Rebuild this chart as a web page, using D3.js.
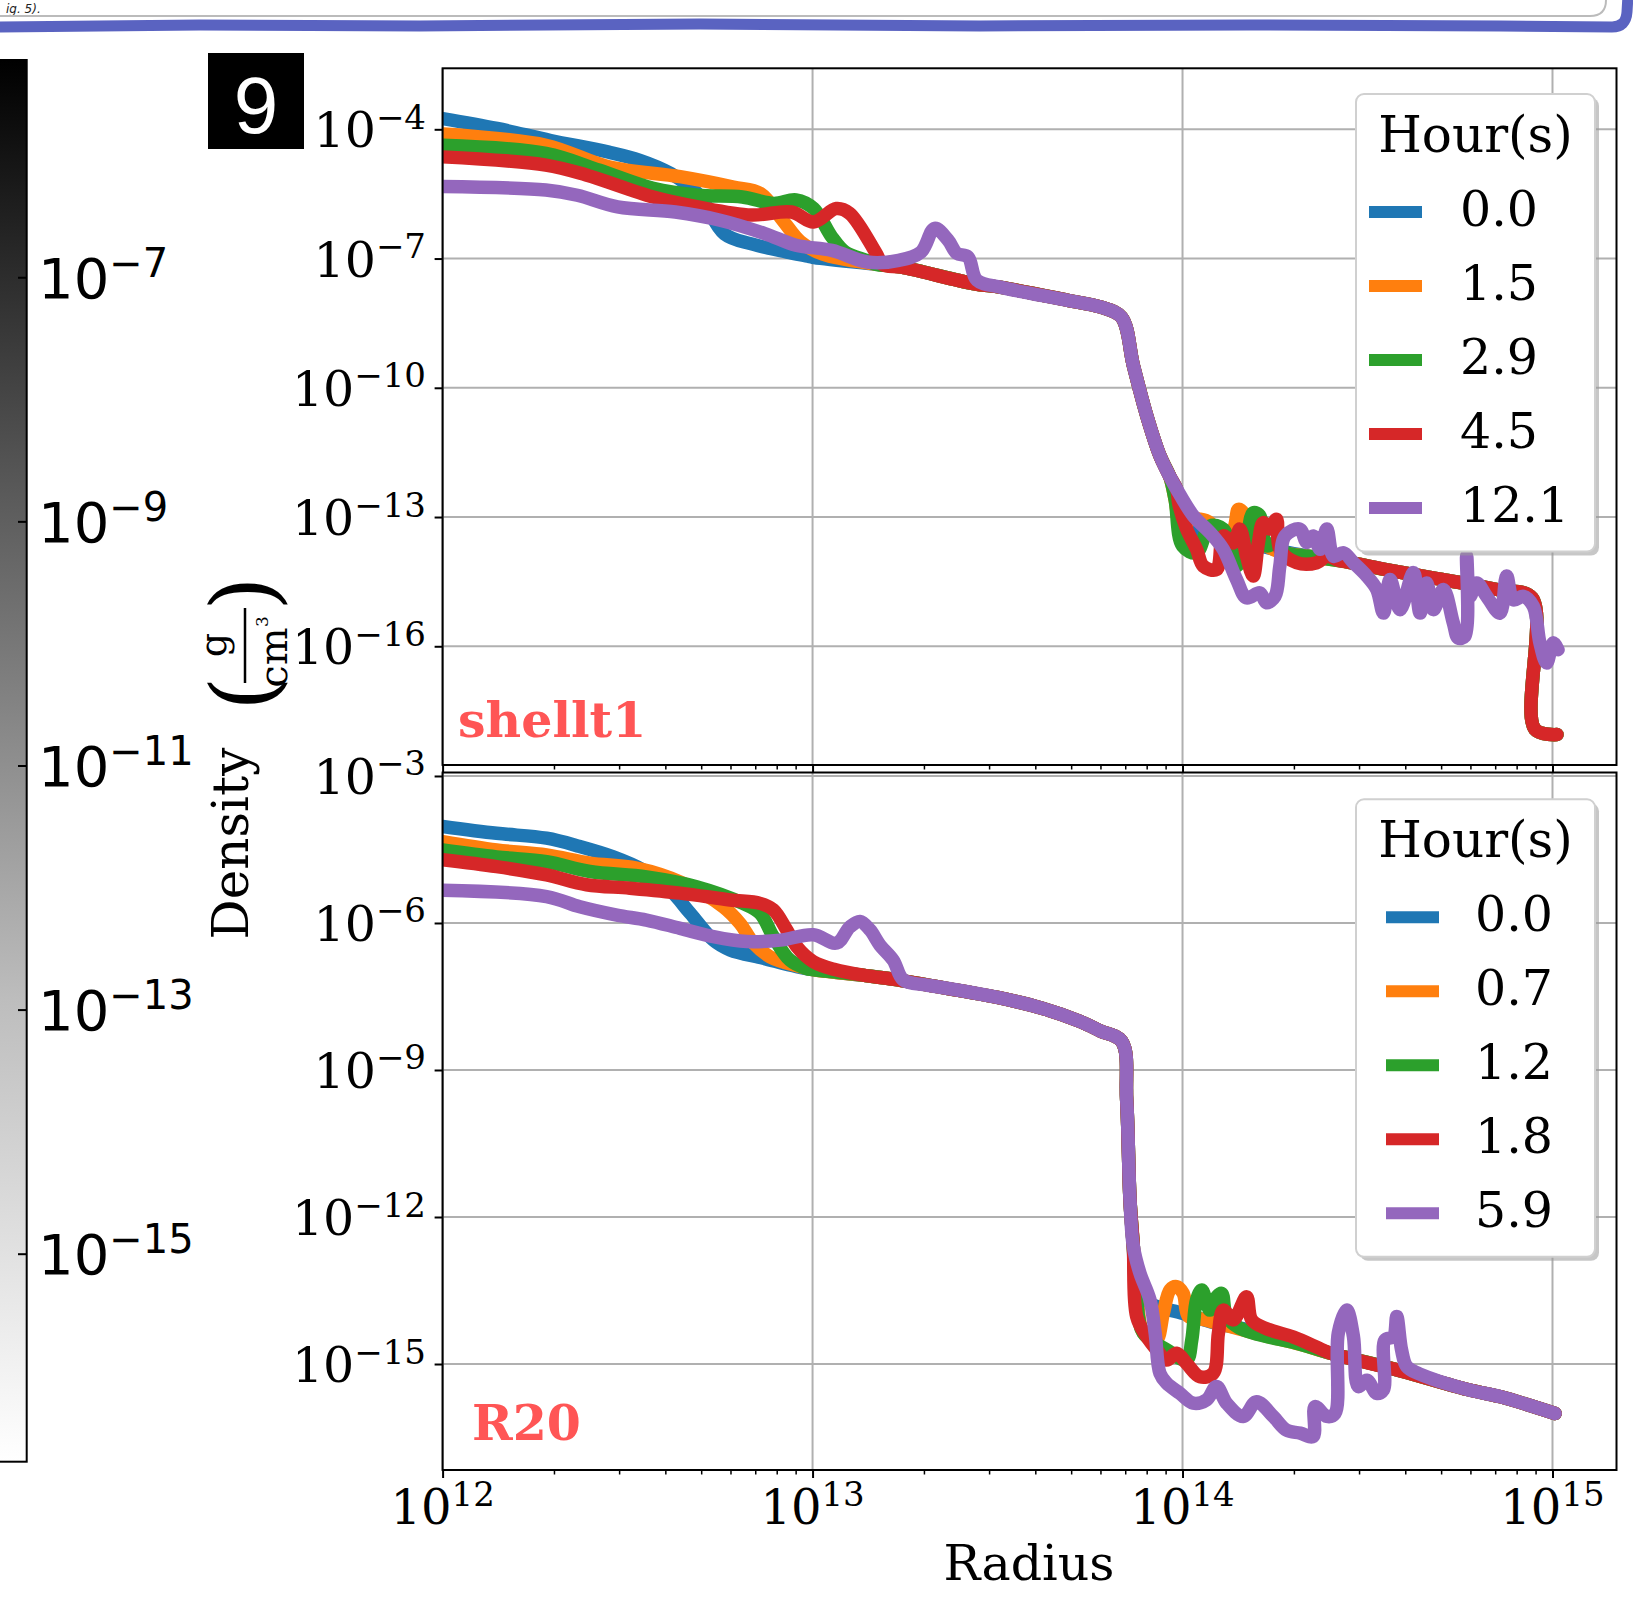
<!DOCTYPE html>
<html>
<head>
<meta charset="utf-8">
<script src="https://cdn.jsdelivr.net/npm/d3@7"></script>
<style>
  html, body { margin: 0; padding: 0; background: #fff; }
  svg { display: block; }
</style>
</head>
<body>
<div id="chart"></div>
<script>
// ---- Data (log10 radius, log10 density) ----
const colors = ['#1f77b4', '#ff7f0e', '#2ca02c', '#d62728', '#9467bd'];

// top panel: shellt1
const topHours = ['0.0', '1.5', '2.9', '4.5', '12.1'];
const topInner = [
  [[12.0,-3.75],[12.147,-3.98],[12.292,-4.26],[12.449,-4.53],[12.533,-4.72],[12.617,-5.03],[12.69,-5.5],[12.762,-6.43],[12.835,-6.66],[12.931,-6.85],[12.99,-6.95]],
  [[12.0,-4.11],[12.279,-4.37],[12.449,-4.87],[12.642,-5.1],[12.786,-5.34],[12.859,-5.49],[12.919,-6.11],[12.967,-6.61],[13.028,-6.9]],
  [[12.0,-4.37],[12.279,-4.56],[12.424,-4.95],[12.569,-5.37],[12.69,-5.53],[12.81,-5.57],[12.895,-5.72],[12.955,-5.64],[13.003,-5.84],[13.052,-6.5],[13.088,-6.85],[13.148,-7.05]],
  [[12.0,-4.64],[12.279,-4.83],[12.388,-5.06],[12.569,-5.57],[12.69,-5.8],[12.835,-5.99],[12.943,-5.92],[13.003,-6.15],[13.064,-5.84],[13.1,-5.95],[13.172,-6.88],[13.19,-7.14]],
  [[12.0,-5.33],[12.279,-5.41],[12.364,-5.53],[12.473,-5.8],[12.629,-5.92],[12.75,-6.11],[12.871,-6.42],[12.955,-6.69],[13.052,-6.81],[13.148,-7.08],[13.233,-7.04],[13.293,-6.85],[13.33,-6.3],[13.366,-6.57],[13.39,-6.88],[13.42,-6.96],[13.444,-7.5]]
];
const topShelf = [[13.0,-6.97],[13.17,-7.13],[13.24,-7.2],[13.434,-7.58],[13.51,-7.67],[13.69,-7.97],[13.78,-8.13],[13.835,-8.36],[13.867,-9.48],[13.903,-10.64],[13.939,-11.58],[13.965,-12.05],[13.984,-12.35],[14.029,-12.97]];
const topNoise = [
  [[13.99,-12.6],[14.0,-13.15],[14.1,-13.45],[14.2,-13.65],[14.3,-13.85],[14.42,-14.0]],
  [[13.98,-12.6],[13.998,-13.44],[14.02,-13.05],[14.047,-13.05],[14.074,-13.13],[14.101,-13.44],[14.137,-13.28],[14.151,-12.82],[14.164,-12.9],[14.178,-13.6],[14.2,-13.44],[14.227,-13.67],[14.272,-13.83],[14.35,-13.92]],
  [[13.98,-12.6],[14.0,-13.67],[14.038,-13.83],[14.074,-13.21],[14.11,-13.28],[14.146,-14.14],[14.173,-13.52],[14.191,-12.9],[14.209,-12.97],[14.227,-13.67],[14.254,-13.6],[14.281,-13.83],[14.35,-13.92]],
  [[13.99,-12.7],[14.011,-13.28],[14.038,-13.75],[14.056,-14.14],[14.092,-14.22],[14.11,-13.44],[14.137,-13.6],[14.155,-13.28],[14.173,-13.91],[14.191,-14.37],[14.205,-13.6],[14.218,-13.13],[14.236,-13.28],[14.254,-13.05],[14.263,-13.75],[14.308,-14.06],[14.363,-14.06],[14.39,-13.91],[14.42,-14.0]],
  [[14.074,-13.36],[14.11,-13.75],[14.146,-14.45],[14.173,-14.88],[14.209,-14.76],[14.227,-14.99],[14.25,-14.84],[14.263,-14.14],[14.277,-13.44],[14.317,-13.28],[14.336,-13.59],[14.353,-13.44],[14.372,-13.75],[14.39,-13.28],[14.408,-13.91],[14.435,-13.83],[14.462,-14.06],[14.498,-14.37],[14.525,-14.68],[14.543,-15.23],[14.561,-14.45],[14.588,-15.15],[14.624,-14.29],[14.642,-15.23],[14.66,-14.53],[14.678,-15.15],[14.705,-14.68],[14.732,-15.46],[14.745,-15.81],[14.763,-15.77],[14.768,-13.91],[14.777,-14.84],[14.795,-14.53],[14.822,-14.84],[14.858,-15.23],[14.876,-14.37],[14.894,-14.92],[14.921,-14.84],[14.948,-15.07],[14.966,-15.92],[14.984,-16.39],[15.002,-15.92],[15.015,-16.08]]
];
const topTail = [[14.45,-14.05],[14.55,-14.22],[14.68,-14.42],[14.77,-14.55],[14.86,-14.7],[14.945,-14.88],[14.952,-17.92],[15.012,-18.05]];

// bottom panel: R20
const botHours = ['0.0', '0.7', '1.2', '1.8', '5.9'];
const botInner = [
  [[12.0,-4.03],[12.146,-4.17],[12.281,-4.27],[12.371,-4.44],[12.461,-4.65],[12.542,-4.92],[12.615,-5.33],[12.669,-5.8],[12.732,-6.35],[12.777,-6.55],[12.867,-6.72],[12.957,-6.89]],
  [[12.0,-4.34],[12.146,-4.51],[12.281,-4.61],[12.398,-4.78],[12.524,-4.88],[12.651,-5.19],[12.759,-5.67],[12.804,-6.01],[12.84,-6.41],[12.885,-6.69],[12.96,-6.88]],
  [[12.0,-4.51],[12.146,-4.65],[12.281,-4.75],[12.398,-4.95],[12.551,-5.06],[12.686,-5.26],[12.812,-5.6],[12.858,-5.8],[12.894,-6.28],[12.939,-6.76],[12.984,-6.93]],
  [[12.0,-4.71],[12.146,-4.85],[12.281,-5.02],[12.389,-5.22],[12.506,-5.29],[12.642,-5.39],[12.777,-5.53],[12.858,-5.6],[12.894,-5.73],[12.93,-6.14],[12.957,-6.48],[13.002,-6.79],[13.06,-6.95]],
  [[12.0,-5.33],[12.281,-5.46],[12.371,-5.67],[12.471,-5.84],[12.551,-5.94],[12.642,-6.11],[12.732,-6.28],[12.822,-6.38],[12.912,-6.35],[13.002,-6.24],[13.065,-6.41],[13.101,-6.08],[13.128,-5.97],[13.155,-6.14],[13.182,-6.45],[13.218,-6.76],[13.245,-7.16],[13.3,-7.26]]
];
const botShelf = [[13.0,-6.95],[13.14,-7.07],[13.23,-7.16],[13.32,-7.28],[13.5,-7.52],[13.62,-7.74],[13.72,-8.0],[13.777,-8.2],[13.836,-8.42],[13.849,-9.61],[13.858,-11.65],[13.867,-12.6],[13.885,-13.15]];
const botNoise = [
  [[13.876,-13.4],[13.912,-13.76],[14.002,-13.97],[14.092,-14.17],[14.182,-14.31],[14.318,-14.58]],
  [[13.876,-13.5],[13.89,-14.3],[13.91,-14.48],[13.93,-14.51],[13.948,-13.97],[13.966,-13.49],[13.984,-13.42],[14.002,-13.56],[14.016,-14.03],[14.05,-14.08],[14.2,-14.38],[14.32,-14.6]],
  [[13.876,-13.69],[13.894,-14.37],[13.957,-14.71],[14.011,-14.92],[14.025,-14.51],[14.038,-13.69],[14.052,-13.49],[14.074,-13.9],[14.092,-13.63],[14.106,-13.56],[14.119,-14.03],[14.155,-14.27],[14.32,-14.6]],
  [[13.876,-14.03],[13.903,-14.44],[13.93,-14.71],[13.957,-14.92],[13.984,-14.78],[14.011,-14.99],[14.047,-15.26],[14.083,-15.19],[14.097,-14.37],[14.11,-13.9],[14.137,-14.1],[14.173,-13.63],[14.187,-14.1],[14.227,-14.28],[14.3,-14.45],[14.37,-14.68]],
  [[13.912,-13.69],[13.926,-14.37],[13.939,-15.19],[13.957,-15.39],[13.993,-15.6],[14.029,-15.8],[14.065,-15.73],[14.092,-15.46],[14.119,-15.8],[14.164,-16.07],[14.2,-15.77],[14.245,-16.07],[14.281,-16.35],[14.318,-16.41],[14.353,-16.48],[14.358,-15.87],[14.39,-16.07],[14.412,-16.01],[14.421,-14.37],[14.444,-13.9],[14.462,-14.44],[14.475,-15.46],[14.498,-15.33],[14.525,-15.6],[14.543,-15.53],[14.547,-14.51],[14.57,-14.44],[14.579,-14.03],[14.592,-14.71],[14.606,-15.05],[14.64,-15.2]]
];
const botTail = [[14.4,-14.78],[14.59,-15.14],[14.77,-15.52],[14.86,-15.67],[15.007,-16.01]];

// ticks
const xTickExp = [12, 13, 14, 15];
const topYTickExp = [-4, -7, -10, -13, -16];
const botYTickExp = [-3, -6, -9, -12, -15];
const cbarTickExp = [-7, -9, -11, -13, -15];

// ---- Layout ----
const width = 1633;
const height = 1618;
const serif = '"DejaVu Serif", "Liberation Serif", serif';
const sans = '"DejaVu Sans", "Liberation Sans", sans-serif';

const svg = d3.select('#chart')
  .append('svg')
    .attr('width', width)
    .attr('height', height)
    .attr('viewBox', `0 0 ${width} ${height}`);

const x = d3.scaleLog()
  .domain([1e12, Math.pow(10, 15.173)])
  .range([442.6, 1616.5]);

const panels = [
  {
    name: 'shellt1', top: 68.3, bottom: 765,
    y: d3.scaleLog().domain([Math.pow(10, -18.756), Math.pow(10, -2.584)]).range([765, 68.3]),
    ticks: topYTickExp, hours: topHours,
    inner: topInner, shelf: topShelf, noise: topNoise, tail: topTail,
    legendTop: 94, handleX: 1369, labelX: 1460, labelY: 737, labelX0: 458
  },
  {
    name: 'R20', top: 772.5, bottom: 1470,
    y: d3.scaleLog().domain([Math.pow(10, -17.163), Math.pow(10, -2.929)]).range([1470, 772.5]),
    ticks: botYTickExp, hours: botHours,
    inner: botInner, shelf: botShelf, noise: botNoise, tail: botTail,
    legendTop: 799.3, handleX: 1386, labelX: 1475, labelY: 1440, labelX0: 472
  }
];

// join the pieces read for one curve
const buildSeries = (inner, shelf, noise, tail) => {
  let pts = inner.slice();
  let last = pts[pts.length - 1][0];
  const noiseStart = noise[0][0];
  shelf.forEach(p => { if (p[0] > last && p[0] < noiseStart) pts.push(p); });
  pts = pts.concat(noise);
  last = pts[pts.length - 1][0];
  tail.forEach(p => { if (p[0] > last) pts.push(p); });
  return pts;
};

// power-of-ten label with superscript
const powLabel = (sel, exp, baseSize, supSize, rise) => {
  sel.append('tspan').text('10').attr('font-size', baseSize);
  sel.append('tspan')
    .attr('font-size', supSize)
    .attr('dy', -rise)
    .text(exp < 0 ? '\u2212' + Math.abs(exp) : String(exp));
};

// ---- Top strip (screenshot frame) ----
svg.append('text')
  .attr('x', 6)
  .attr('y', 13)
  .attr('font-family', sans)
  .attr('font-style', 'italic')
  .attr('font-size', 12)
  .attr('fill', '#222')
  .text('ig. 5).');
svg.append('path')
  .attr('d', 'M0,16 L1590,16 Q1606,16 1606,0')
  .attr('fill', 'none')
  .attr('stroke', '#bbb')
  .attr('stroke-width', 2);
svg.append('path')
  .attr('d', 'M-5,27 L200,25 L420,26 L700,24 L980,26 L1250,25 L1500,26 L1612,27 Q1626,27 1627,12 L1628,-5')
  .attr('fill', 'none')
  .attr('stroke', '#5a63c1')
  .attr('stroke-width', 11)
  .attr('stroke-linecap', 'round');

// ---- Colorbar ----
const defs = svg.append('defs');
const grad = defs.append('linearGradient')
  .attr('id', 'cbar')
  .attr('x1', 0).attr('y1', 0).attr('x2', 0).attr('y2', 1);
[[0, '#000'], [0.31, '#5a5a5a'], [0.67, '#bdbdbd'], [1, '#fff']].forEach(s => {
  grad.append('stop').attr('offset', s[0]).attr('stop-color', s[1]);
});
const cbarY = d3.scaleLog()
  .domain([Math.pow(10, -16.7), Math.pow(10, -5.216)])
  .range([1461.7, 60]);
svg.append('rect')
  .attr('x', -10).attr('y', 60)
  .attr('width', 36.7).attr('height', 1401.7)
  .attr('fill', 'url(#cbar)')
  .attr('stroke', '#000')
  .attr('stroke-width', 2);
const cbarTicks = svg.append('g').attr('class', 'cbar-ticks');
cbarTicks.selectAll('line')
  .data(cbarTickExp)
  .join('line')
    .attr('x1', 18).attr('x2', 26.7)
    .attr('y1', d => cbarY(Math.pow(10, d)))
    .attr('y2', d => cbarY(Math.pow(10, d)))
    .attr('stroke', '#000')
    .attr('stroke-width', 2);
cbarTicks.selectAll('text')
  .data(cbarTickExp)
  .join('text')
    .attr('x', 38)
    .attr('y', d => cbarY(Math.pow(10, d)) + 20)
    .attr('font-family', sans)
    .attr('fill', '#000')
    .each(function (d) { powLabel(d3.select(this), d, 56, 40, 21); });

// ---- Panel number box ----
svg.append('rect')
  .attr('x', 208).attr('y', 53)
  .attr('width', 96).attr('height', 96)
  .attr('fill', '#000');
svg.append('text')
  .attr('x', 256).attr('y', 133)
  .attr('text-anchor', 'middle')
  .attr('font-family', '"Liberation Sans", Arial, sans-serif')
  .attr('font-size', 80)
  .attr('fill', '#fff')
  .text('9');

// ---- Panels ----
const line = yScale => d3.line()
  .x(d => x(Math.pow(10, d[0])))
  .y(d => yScale(Math.pow(10, d[1])))
  .curve(d3.curveCatmullRom.alpha(0.5));

const minorX = [];
xTickExp.forEach(e => {
  for (let m = 2; m <= 9; m++) {
    const v = m * Math.pow(10, e);
    if (v <= x.domain()[1]) minorX.push(v);
  }
});

panels.forEach((p, pi) => {
  const g = svg.append('g').attr('class', 'panel-' + pi);
  const left = x.range()[0];
  const right = x.range()[1];

  // grid
  const grid = g.append('g')
    .attr('stroke', '#b0b0b0')
    .attr('stroke-width', 2);
  grid.selectAll('line.gx')
    .data(xTickExp)
    .join('line')
      .attr('class', 'gx')
      .attr('x1', d => x(Math.pow(10, d))).attr('x2', d => x(Math.pow(10, d)))
      .attr('y1', p.top).attr('y2', p.bottom);
  grid.selectAll('line.gy')
    .data(p.ticks)
    .join('line')
      .attr('class', 'gy')
      .attr('x1', left).attr('x2', right)
      .attr('y1', d => p.y(Math.pow(10, d))).attr('y2', d => p.y(Math.pow(10, d)));

  // curves
  const clipId = 'clip' + pi;
  defs.append('clipPath').attr('id', clipId)
    .append('rect')
      .attr('x', left).attr('y', p.top)
      .attr('width', right - left).attr('height', p.bottom - p.top);
  g.append('g')
    .attr('clip-path', `url(#${clipId})`)
    .selectAll('path')
    .data(p.hours.map((h, i) => buildSeries(p.inner[i], p.shelf, p.noise[i], p.tail)))
    .join('path')
      .attr('d', line(p.y))
      .attr('fill', 'none')
      .attr('stroke', (d, i) => colors[i])
      .attr('stroke-width', 13.5)
      .attr('stroke-linejoin', 'round')
      .attr('stroke-linecap', 'round');

  // frame
  g.append('rect')
    .attr('x', left).attr('y', p.top)
    .attr('width', right - left).attr('height', p.bottom - p.top)
    .attr('fill', 'none')
    .attr('stroke', '#000')
    .attr('stroke-width', 2);

  // x ticks
  g.append('g')
    .attr('transform', `translate(0,${p.bottom})`)
    .call(d3.axisBottom(x).tickValues(xTickExp.map(e => Math.pow(10, e))).tickFormat('').tickSize(8).tickSizeOuter(0))
    .call(a => a.select('.domain').remove())
    .call(a => a.selectAll('line').attr('stroke-width', 2));
  g.append('g')
    .attr('transform', `translate(0,${p.bottom})`)
    .call(d3.axisBottom(x).tickValues(minorX).tickFormat('').tickSize(4.5).tickSizeOuter(0))
    .call(a => a.select('.domain').remove())
    .call(a => a.selectAll('line').attr('stroke-width', 1.5));

  // y ticks
  g.append('g')
    .attr('transform', `translate(${left},0)`)
    .call(d3.axisLeft(p.y).tickValues(p.ticks.map(e => Math.pow(10, e))).tickFormat('').tickSize(8).tickSizeOuter(0))
    .call(a => a.select('.domain').remove())
    .call(a => a.selectAll('line').attr('stroke-width', 2));
  g.append('g')
    .selectAll('text')
    .data(p.ticks)
    .join('text')
      .attr('x', 426)
      .attr('y', d => p.y(Math.pow(10, d)) + 18)
      .attr('text-anchor', 'end')
      .attr('font-family', serif)
      .attr('fill', '#000')
      .each(function (d) { powLabel(d3.select(this), d, 49, 34, 18.5); });

  // run name
  g.append('text')
    .attr('x', p.labelX0).attr('y', p.labelY)
    .attr('font-family', serif)
    .attr('font-weight', 'bold')
    .attr('font-size', 49)
    .attr('fill', '#ff5555')
    .text(p.name);

  // legend
  const lg = g.append('g').attr('class', 'legend');
  const boxX = 1356, boxW = 239, boxH = 457.5;
  lg.append('rect')
    .attr('x', boxX + 4).attr('y', p.legendTop + 4)
    .attr('width', boxW).attr('height', boxH)
    .attr('rx', 8)
    .attr('fill', '#999').attr('opacity', 0.55);
  lg.append('rect')
    .attr('x', boxX).attr('y', p.legendTop)
    .attr('width', boxW).attr('height', boxH)
    .attr('rx', 8)
    .attr('fill', '#fff')
    .attr('stroke', '#d0d0d0')
    .attr('stroke-width', 2);
  lg.append('text')
    .attr('x', boxX + boxW / 2).attr('y', p.legendTop + 57.7)
    .attr('text-anchor', 'middle')
    .attr('font-family', serif)
    .attr('font-size', 50)
    .attr('fill', '#000')
    .text('Hour(s)');
  const entries = lg.selectAll('g.entry')
    .data(p.hours)
    .join('g')
      .attr('class', 'entry')
      .attr('transform', (d, i) => `translate(0,${p.legendTop + 118 + i * 74})`);
  entries.append('line')
    .attr('x1', p.handleX).attr('x2', p.handleX + 53)
    .attr('stroke', (d, i) => colors[i])
    .attr('stroke-width', 12);
  entries.append('text')
    .attr('x', p.labelX).attr('y', 14)
    .attr('font-family', serif)
    .attr('font-size', 49)
    .attr('fill', '#000')
    .text(d => d);
});

// x tick labels (bottom panel only)
svg.append('g')
  .selectAll('text')
  .data(xTickExp)
  .join('text')
    .attr('x', d => x(Math.pow(10, d)))
    .attr('y', 1524)
    .attr('text-anchor', 'middle')
    .attr('font-family', serif)
    .attr('fill', '#000')
    .each(function (d) { powLabel(d3.select(this), d, 48, 34, 18); });

svg.append('text')
  .attr('x', 1029).attr('y', 1580)
  .attr('text-anchor', 'middle')
  .attr('font-family', serif)
  .attr('font-size', 49)
  .attr('fill', '#000')
  .text('Radius');

// y label: Density (g / cm^3), rotated; local (u, v) = (-screenY, screenX)
const yl = svg.append('g')
  .attr('transform', 'rotate(-90)')
  .attr('font-family', serif)
  .attr('fill', '#000');
yl.append('text')
  .attr('x', -843.5).attr('y', 248)
  .attr('text-anchor', 'middle')
  .attr('font-size', 50)
  .text('Density');
yl.append('text')
  .attr('x', -693.5).attr('y', 274)
  .attr('text-anchor', 'middle')
  .attr('font-size', 88)
  .text('(');
yl.append('text')
  .attr('x', -593.5).attr('y', 274)
  .attr('text-anchor', 'middle')
  .attr('font-size', 88)
  .text(')');
yl.append('text')
  .attr('x', -645).attr('y', 226)
  .attr('text-anchor', 'middle')
  .attr('font-size', 38)
  .text('g');
yl.append('line')
  .attr('x1', -683).attr('x2', -608)
  .attr('y1', 245).attr('y2', 245)
  .attr('stroke', '#000')
  .attr('stroke-width', 2.5);
yl.append('text')
  .attr('x', -657.5).attr('y', 287)
  .attr('text-anchor', 'middle')
  .attr('font-size', 40)
  .text('cm');
yl.append('text')
  .attr('x', -621.5).attr('y', 268)
  .attr('text-anchor', 'middle')
  .attr('font-size', 17)
  .text('3');
</script>
</body>
</html>
